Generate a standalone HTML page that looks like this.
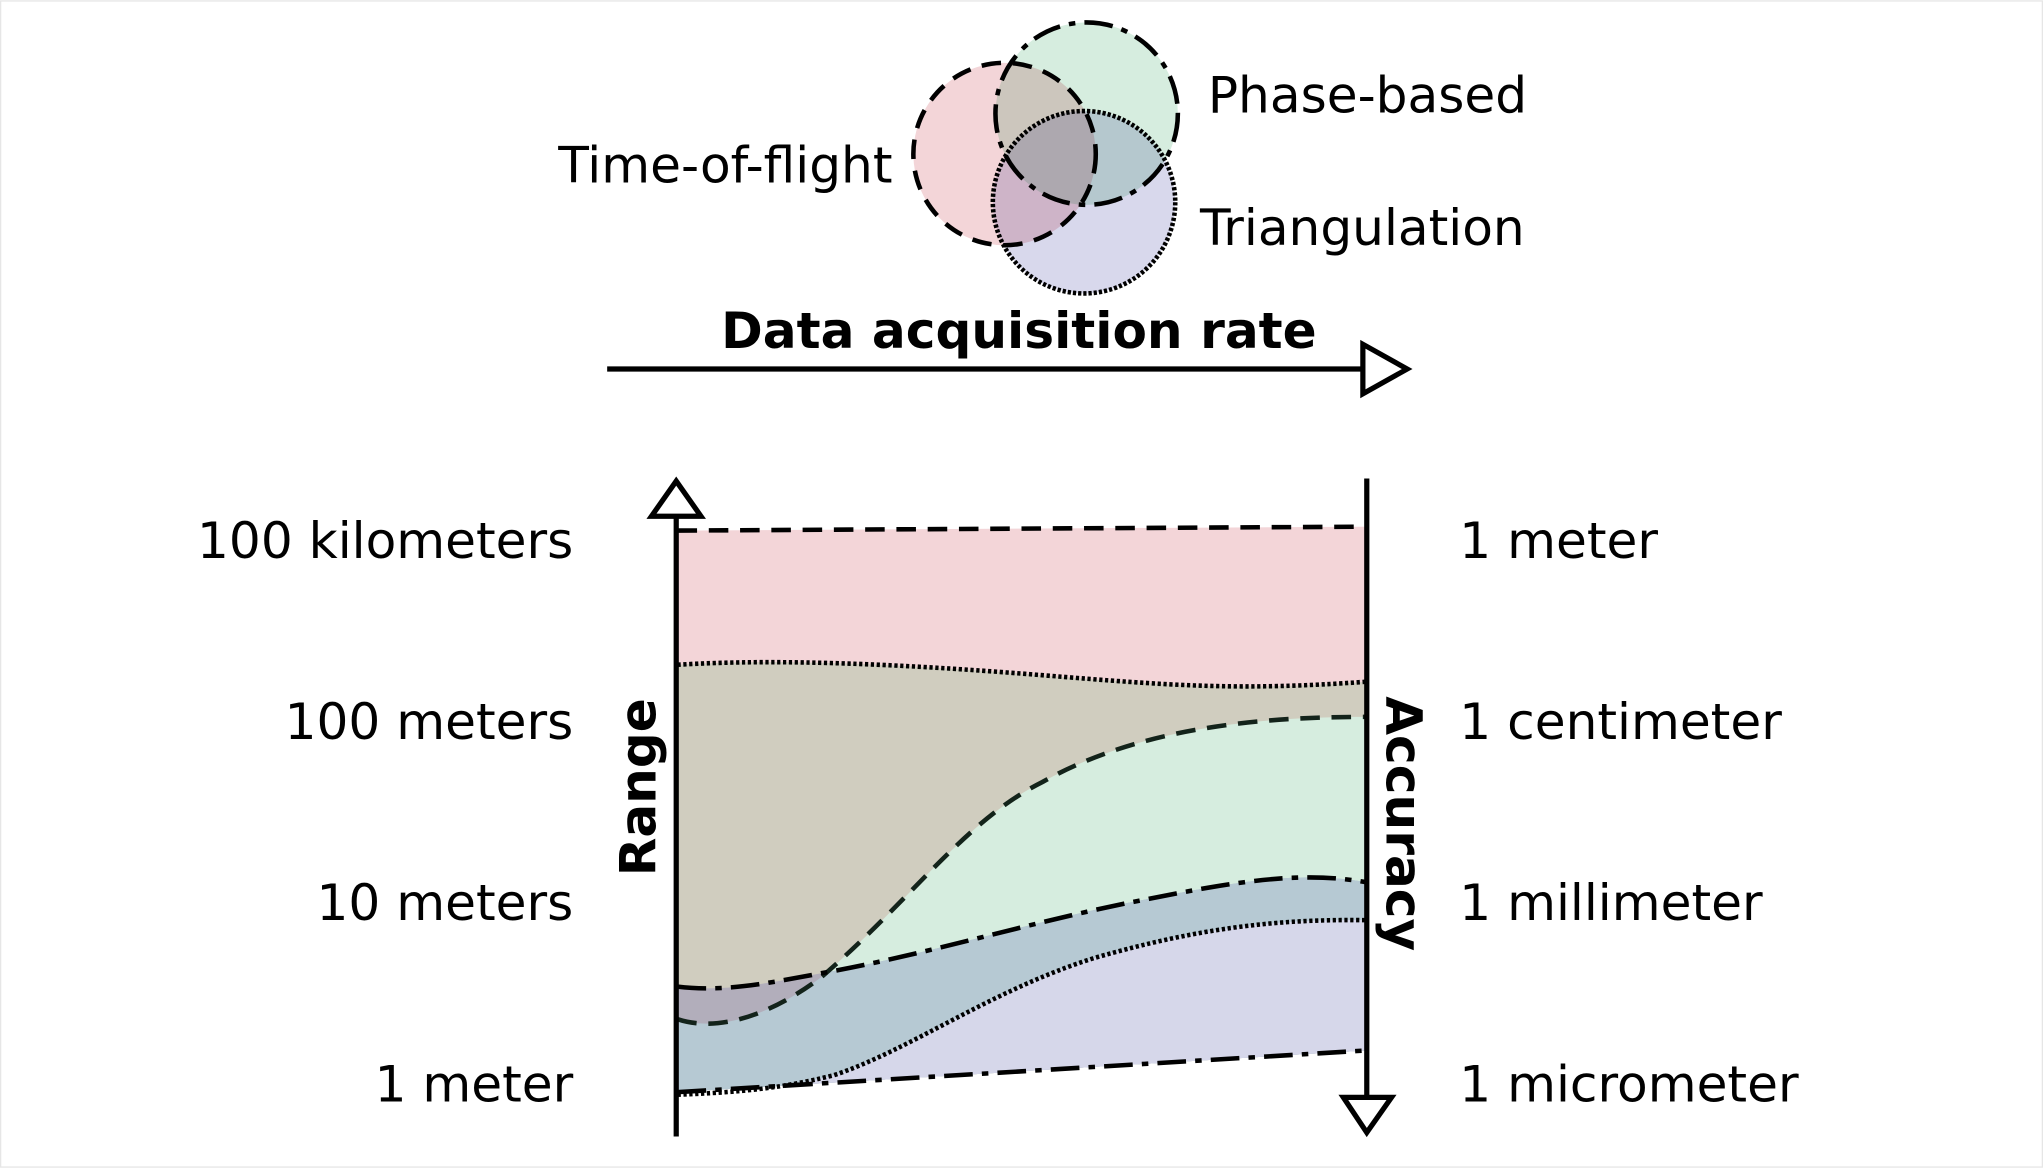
<!DOCTYPE html>
<html><head><meta charset="utf-8"><style>
html,body{margin:0;padding:0;background:#fff;}
svg{display:block;}
text{font-family:"DejaVu Sans","Liberation Sans",sans-serif;font-size:38.5px;fill:#000;}
.b{font-weight:bold;}
</style></head><body>
<svg width="2043" height="1168" viewBox="0 0 1568 896" xmlns="http://www.w3.org/2000/svg">
<rect x="0.5" y="0.5" width="1567" height="895" fill="#fff" stroke="#e6e6e6"/>
<defs>
<clipPath id="area"><path d="M520,407 L1049,404 L1049,806 L520,838 Z"/></clipPath>
<clipPath id="belowDD"><path d="M520,757 C560,762 600,752 640,745 C720,730 800,705 880,690 C950,676 1000,668 1049,677 L1049,900 L520,900 Z"/></clipPath>
</defs>
<g clip-path="url(#area)">
<rect x="510" y="390" width="550" height="460" fill="#f3d5d8"/>
<path d="M520,510 C600,505 700,510 800,518 S950,530 1049,523 L1049,900 L520,900 Z" fill="#d0cdbf"/>
<path d="M520,782 C550,792 590,780 630,750 C700,690 740,630 800,600 C880,555 980,550 1049,550 L1049,900 L520,900 Z" fill="#d6eddf"/>
<path d="M520,757 C560,762 600,752 640,745 C720,730 800,705 880,690 C950,676 1000,668 1049,677 L1049,900 L520,900 Z" fill="#b2aebb"/>
<path clip-path="url(#belowDD)" d="M520,782 C550,792 590,780 630,750 C700,690 740,630 800,600 C880,555 980,550 1049,550 L1049,900 L520,900 Z" fill="#b6c9d3"/>
<path d="M520,840 C570,838 600,835 640,825 C700,805 760,760 840,735 C920,712 980,705 1049,706 L1049,900 L520,900 Z" fill="#d6d7ea"/>
</g>
<g fill="none" stroke="#000" stroke-width="3.5">
<path d="M520,407 L1049,404" stroke-dasharray="15,9"/>
<path d="M520,510 C600,505 700,510 800,518 S950,530 1049,523" stroke-dasharray="2.5,2"/>
<path d="M520,782 C550,792 590,780 630,750 C700,690 740,630 800,600 C880,555 980,550 1049,550" stroke="#13231a" stroke-dasharray="15,9"/>
<path d="M520,757 C560,762 600,752 640,745 C720,730 800,705 880,690 C950,676 1000,668 1049,677" stroke-dasharray="22,7,5,7"/>
<path d="M520,840 C570,838 600,835 640,825 C700,805 760,760 840,735 C920,712 980,705 1049,706" stroke-dasharray="2.5,2"/>
<path d="M520,838 L1049,806" stroke-dasharray="22,7,5,7"/>
</g>
<g fill="#fff" stroke="#000" stroke-width="4">
<line x1="519" y1="395" x2="519" y2="872"/>
<polygon points="500,396 538,396 519,369"/>
<line x1="1049" y1="367" x2="1049" y2="842"/>
<polygon points="1031,842 1068,842 1049,869"/>
<line x1="466" y1="283" x2="1046" y2="283"/>
<polygon points="1046,264 1046,302 1080,283"/>
</g>
<g style="isolation:isolate">
<ellipse cx="771" cy="118" rx="70" ry="70" fill="#f3d5d8" style="mix-blend-mode:multiply"/>
<ellipse cx="834" cy="87" rx="70" ry="70" fill="#d6eddf" style="mix-blend-mode:multiply"/>
<ellipse cx="832" cy="155" rx="70" ry="70" fill="#d8d8ec" style="mix-blend-mode:multiply"/>
</g>
<g fill="none" stroke="#000" stroke-width="3.5">
<ellipse cx="771" cy="118" rx="70" ry="70" stroke-dasharray="15,9"/>
<ellipse cx="834" cy="87" rx="70" ry="70" stroke-dasharray="22,7,5,7"/>
<ellipse cx="832" cy="155" rx="70" ry="70" stroke-dasharray="2.5,1.5"/>
</g>
<text x="685" y="140" text-anchor="end">Time-of-flight</text>
<text x="927" y="86">Phase-based</text>
<text x="921" y="188">Triangulation</text>
<text class="b" x="782" y="267" text-anchor="middle">Data acquisition rate</text>
<text x="440" y="428" text-anchor="end">100 kilometers</text>
<text x="440" y="567" text-anchor="end">100 meters</text>
<text x="440" y="706" text-anchor="end">10 meters</text>
<text x="440" y="845" text-anchor="end">1 meter</text>
<text x="1120" y="428">1 meter</text>
<text x="1120" y="567">1 centimeter</text>
<text x="1120" y="706">1 millimeter</text>
<text x="1120" y="845">1 micrometer</text>
<text class="b" transform="translate(503,604) rotate(-90)" text-anchor="middle">Range</text>
<text class="b" transform="translate(1064,632) rotate(90)" text-anchor="middle">Accuracy</text>
</svg>
</body></html>
